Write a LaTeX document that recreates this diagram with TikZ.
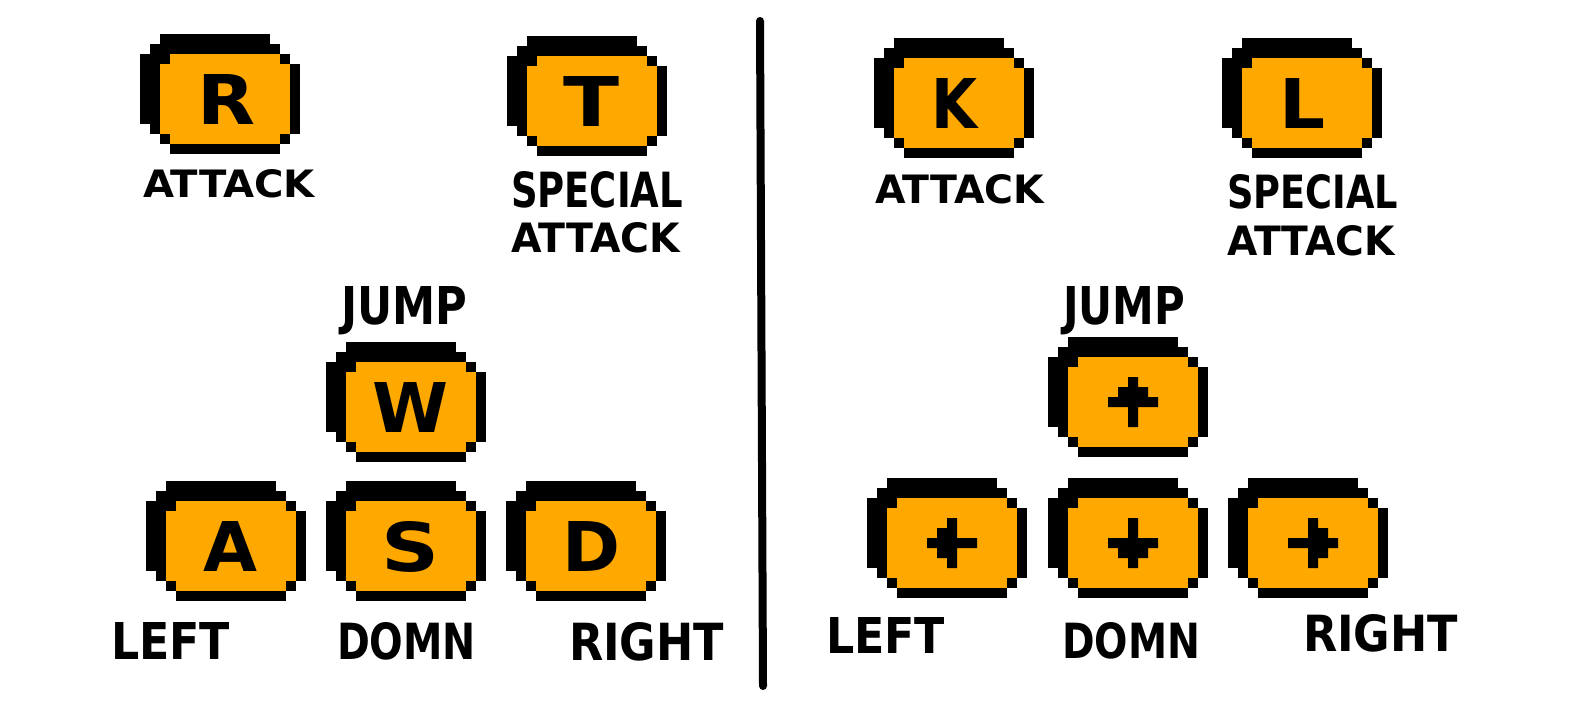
\documentclass[tikz,border=0pt]{standalone}
\usepackage{fontspec}
\setmainfont{DejaVu Sans}
\usepackage{graphicx}
\usepackage{xcolor}
\definecolor{keyorange}{RGB}{255,168,0}

\tikzset{
  every node/.style={inner sep=0pt, outer sep=0pt},
  keycap/.pic={
    % orange face
    \fill[keyorange] (3,2) rectangle (14,3);
    \fill[keyorange] (2,3) rectangle (15,10);
    \fill[keyorange] (3,10) rectangle (14,11);
    % pixel outline
    \fill[black] (2,0) rectangle (13,1);
    \fill[black] (1,1) rectangle (14,2);
    \fill[black] (0,2) rectangle (3,3);
    \fill[black] (14,2) rectangle (15,3);
    \fill[black] (0,3) rectangle (2,9);
    \fill[black] (1,9) rectangle (2,10);
    \fill[black] (15,3) rectangle (16,10);
    \fill[black] (2,10) rectangle (3,11);
    \fill[black] (14,10) rectangle (15,11);
    \fill[black] (3,11) rectangle (14,12);
  },
  arrowglyph/.pic={
    \fill[black] (-0.5,-2.5) -- (0.5,-2.5) -- (0.5,-1.5) -- (1.5,-1.5) -- (1.5,-0.5)
      -- (2.5,-0.5) -- (2.5,0.5) -- (0.5,0.5) -- (0.5,2.5) -- (-0.5,2.5) -- (-0.5,0.5)
      -- (-2.5,0.5) -- (-2.5,-0.5) -- (-1.5,-0.5) -- (-1.5,-1.5) -- (-0.5,-1.5) -- cycle;
  }
}
\newcommand{\pxtxt}[3]{\resizebox{#1pt}{#2pt}{\bfseries #3}}

\begin{document}
\begin{tikzpicture}[x=1pt, y=-1pt]
\useasboundingbox (0,0) rectangle (1570,710);

% letter keys
\foreach \k/\x/\y/\cx/\w in {R/140/34/87/58, T/507/36/84/56, K/874/38/80/46,
    L/1222/38/80/46, W/326/342/85/76, A/146/481/85/54, S/326/481/85/58, D/506/481/85/58}
{
  \pic[scale=10] at (\x,\y) {keycap};
  \node[anchor=base] (key-\k) at (\x+\cx,\y+90) {\pxtxt{\w}{50}{\k}};
}

% arrow keys
\foreach \k/\x/\y/\a in {up/1048/337/0, lt/867/478/90, dn/1048/478/180, rt/1228/478/-90}
{
  \pic[scale=10] at (\x,\y) {keycap};
  \pic[scale=10, rotate=\a] at (\x+85,\y+65) {arrowglyph};
  \node (key-\k) at (\x+85,\y+65) {};
}

% labels
\foreach \n/\t/\x/\b/\w/\h in {atk-R/ATTACK/143/197/172/28, spc-T/SPECIAL/511/207/172/36,
    atk-T/ATTACK/511/252/169/30, atk-K/ATTACK/875/203/169/29, spc-L/SPECIAL/1227/208/171/34,
    atk-L/ATTACK/1227/255/168/30, jmp-W/JUMP/341/324/126/38, jmp-up/JUMP/1063/324/122/38,
    lft-A/LEFT/111/659/119/37, dwn-S/DOMN/337/659/139/37, rgt-D/RIGHT/569/660/155/38,
    lft-lt/LEFT/826/653/119/36, dwn-dn/DOMN/1062/658/138/36, rgt-rt/RIGHT/1303/651/155/37}
  \node[anchor=base west] (lbl-\n) at (\x,\b) {\pxtxt{\w}{\h}{\t}};

% divider
\coordinate (divtop) at (760,21);
\coordinate (divbot) at (763,686);
\draw[line width=8pt, line cap=round] (divtop) -- (divbot);

\end{tikzpicture}
\end{document}
